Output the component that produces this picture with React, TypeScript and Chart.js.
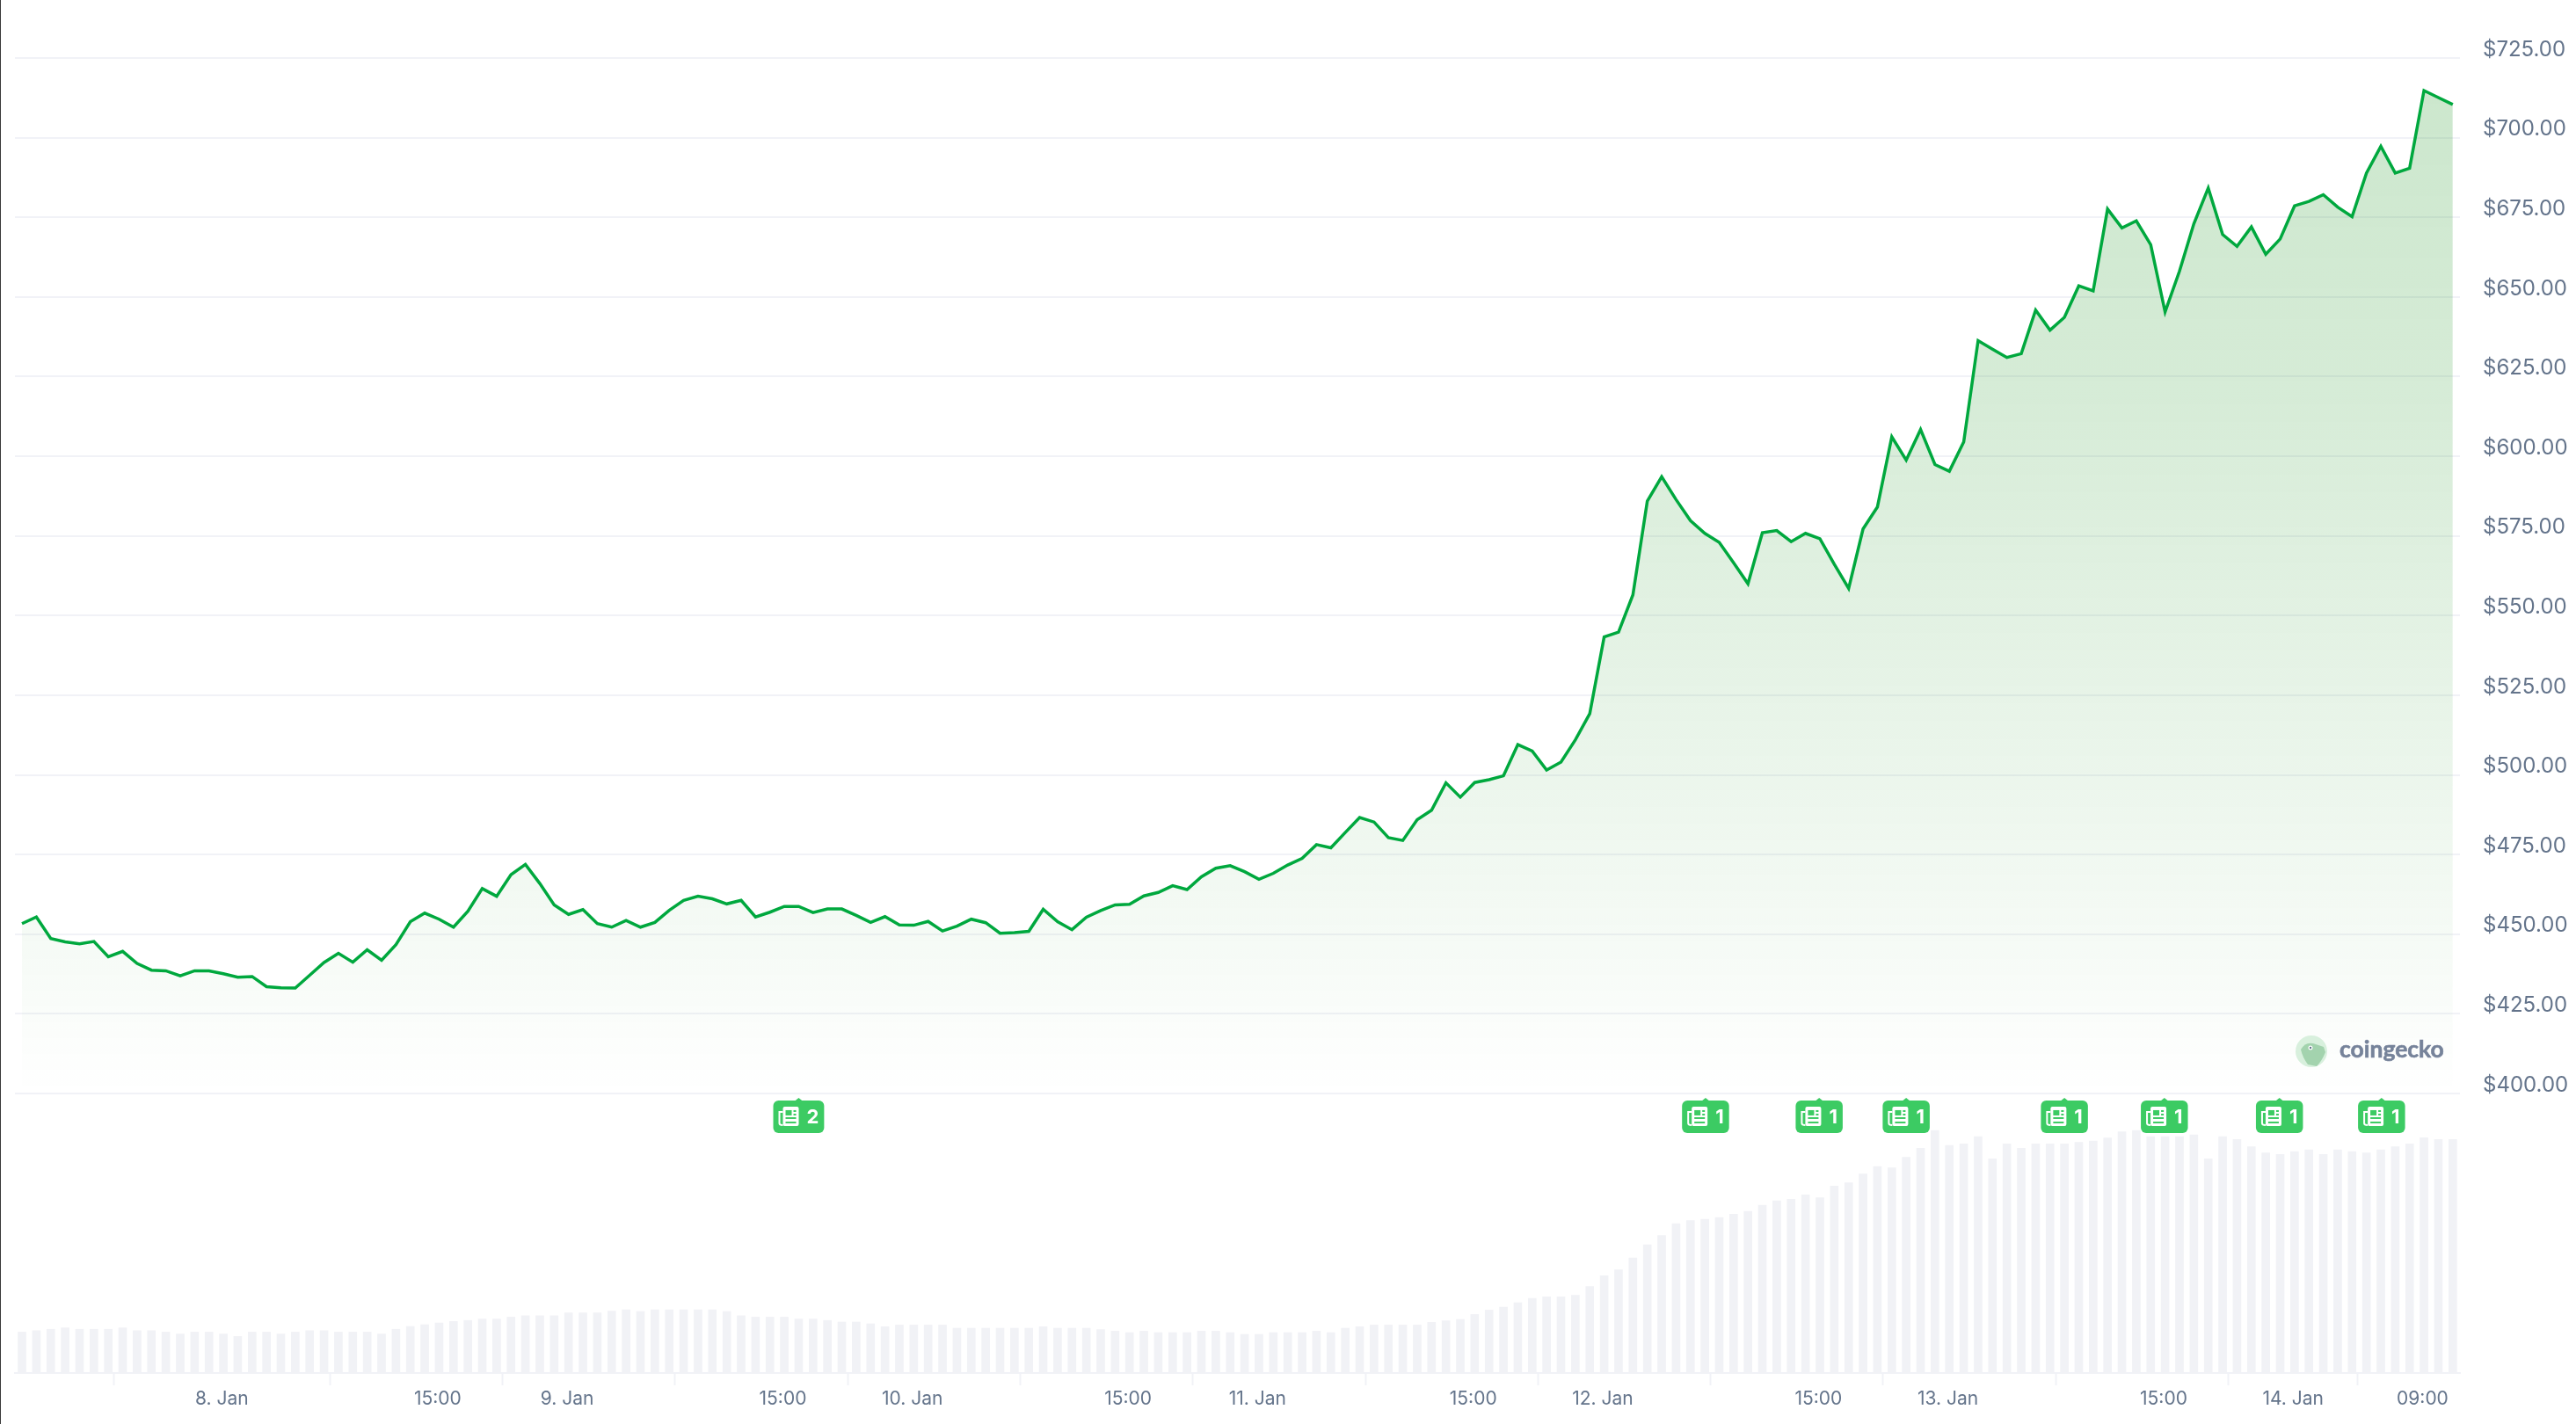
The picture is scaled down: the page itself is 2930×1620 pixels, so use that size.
import { useEffect, useRef } from "react";
import { Chart, registerables } from "chart.js";

Chart.register(...registerables);

// hourly close price, USD
const prices = [
  453.3, 455.4, 448.6, 447.6, 447.0, 447.7, 442.9, 444.6, 440.8, 438.7,
  438.5, 436.9, 438.5, 438.5, 437.6, 436.5, 436.7, 433.5, 433.2, 433.1,
  437.1, 441.1, 444.0, 441.2, 445.1, 441.8, 446.7, 453.9, 456.6, 454.7,
  452.2, 457.2, 464.3, 461.9, 468.7, 471.9, 465.9, 459.2, 456.2, 457.7,
  453.3, 452.2, 454.3, 452.2, 453.7, 457.5, 460.6, 461.9, 461.1, 459.5,
  460.6, 455.4, 456.9, 458.7, 458.7, 456.8, 457.9, 457.9, 455.9, 453.7,
  455.5, 452.9, 452.8, 454.0, 451.0, 452.5, 454.7, 453.6, 450.3, 450.5,
  450.9, 457.8, 453.9, 451.4, 455.3, 457.4, 459.2, 459.4, 462.0, 463.1,
  465.2, 464.0, 468.0, 470.7, 471.5, 469.6, 467.2, 469.1, 471.7, 473.8,
  478.1, 477.1, 481.9, 486.6, 485.2, 480.3, 479.4, 485.9, 488.9, 497.5,
  493.0, 497.6, 498.5, 499.7, 509.5, 507.5, 501.5, 504.0, 511.0, 519.2,
  543.3, 544.8, 556.5, 585.9, 593.6, 586.4, 579.8, 575.8, 573.0, 566.6,
  560.0, 576.0, 576.7, 573.2, 575.8, 574.1, 566.1, 558.5, 577.2, 584.1,
  606.1, 598.8, 608.4, 597.4, 595.3, 604.5, 636.3, 633.6, 631.0, 632.2,
  645.9, 639.6, 643.6, 653.5, 651.9, 677.6, 671.7, 673.9, 666.4, 645.3,
  658.1, 673.0, 684.2, 669.6, 665.9, 672.0, 663.4, 668.2, 678.6, 680.0,
  682.1, 678.2, 675.2, 688.9, 697.3, 688.9, 690.4, 714.8, 712.6, 710.4,
];

// hourly traded volume, $B
const volumes = [
  2.33, 2.41, 2.49, 2.57, 2.49, 2.49, 2.49, 2.57, 2.41, 2.41,
  2.33, 2.22, 2.33, 2.33, 2.22, 2.08, 2.33, 2.33, 2.22, 2.33,
  2.41, 2.41, 2.33, 2.33, 2.33, 2.22, 2.49, 2.65, 2.75, 2.85,
  2.93, 2.99, 3.07, 3.07, 3.18, 3.26, 3.26, 3.26, 3.42, 3.42,
  3.42, 3.52, 3.6, 3.5, 3.6, 3.6, 3.6, 3.6, 3.6, 3.5,
  3.26, 3.18, 3.18, 3.18, 3.07, 3.07, 2.99, 2.9, 2.9, 2.8,
  2.63, 2.73, 2.73, 2.73, 2.73, 2.55, 2.55, 2.55, 2.55, 2.55,
  2.55, 2.63, 2.55, 2.55, 2.55, 2.47, 2.38, 2.3, 2.38, 2.3,
  2.3, 2.3, 2.38, 2.38, 2.3, 2.2, 2.2, 2.3, 2.3, 2.3,
  2.38, 2.3, 2.55, 2.63, 2.73, 2.73, 2.73, 2.73, 2.88, 2.97,
  3.05, 3.33, 3.58, 3.75, 4.0, 4.25, 4.33, 4.33, 4.42, 4.92,
  5.53, 5.87, 6.55, 7.3, 7.82, 8.5, 8.67, 8.75, 8.85, 9.03,
  9.2, 9.55, 9.8, 9.88, 10.13, 9.97, 10.63, 10.82, 11.32, 11.75,
  11.67, 12.27, 12.78, 13.8, 12.95, 13.03, 13.45, 12.18, 13.03, 12.78,
  13.03, 13.03, 13.03, 13.12, 13.2, 13.37, 13.72, 13.8, 13.45, 13.45,
  13.45, 13.55, 12.18, 13.45, 13.28, 12.87, 12.52, 12.43, 12.6, 12.7,
  12.43, 12.7, 12.6, 12.52, 12.7, 12.87, 13.03, 13.38, 13.28, 13.28,
];

// x axis is hours since 8. Jan 00:00
const firstHour = -13.9;
const tickHours = [0, 15, 24, 39, 48, 63, 72, 87, 96, 111, 120, 135, 144, 153];
const tickLabels = [
  "8. Jan", "15:00", "9. Jan", "15:00", "10. Jan", "15:00", "11. Jan",
  "15:00", "12. Jan", "15:00", "13. Jan", "15:00", "14. Jan", "09:00",
];
const priceTicks = [400, 425, 450, 475, 500, 525, 550, 575, 600, 625, 650, 675, 700, 725];

// news markers
const newsHours = [40.1, 103.15, 111.05, 117.1, 128.1, 135.05, 143.05, 150.15];
const newsCounts = ["2", "1", "1", "1", "1", "1", "1", "1"];

const LINE = "#00a83e";
const GRID = "#f1f2f7";
const TEXT = "#64748b";

const drawNewsIcon = (ctx: CanvasRenderingContext2D, x: number, y: number, bg: string) => {
  ctx.fillStyle = "#fff";
  ctx.beginPath();
  ctx.roundRect(x + 5, y, 18, 22, 2);
  ctx.fill();
  ctx.strokeStyle = "#fff";
  ctx.lineWidth = 2;
  ctx.beginPath();
  ctx.moveTo(x + 5, y + 6);
  ctx.lineTo(x + 1, y + 6);
  ctx.lineTo(x + 1, y + 19);
  ctx.quadraticCurveTo(x + 1, y + 21, x + 5, y + 21);
  ctx.stroke();
  ctx.fillStyle = bg;
  ctx.fillRect(x + 8, y + 4, 7, 6);
  ctx.fillRect(x + 17, y + 4, 3, 2);
  ctx.fillRect(x + 17, y + 8, 3, 2);
  ctx.fillRect(x + 8, y + 12, 12, 2);
  ctx.fillRect(x + 8, y + 17, 12, 2);
};

const newsPlugin = {
  id: "newsMarkers",
  afterDatasetsDraw: (chart: Chart) => {
    const { ctx, scales } = chart;
    const bg = "#3ccb63";
    const top = scales.y.getPixelForValue(400) + 8;
    ctx.save();
    ctx.font = "bold 22px Inter";
    ctx.textBaseline = "middle";
    ctx.textAlign = "left";
    newsHours.forEach((h, i) => {
      const cx = scales.x.getPixelForValue(h);
      const w = 6 + 24 + 8 + ctx.measureText(newsCounts[i]).width + 6;
      const left = cx - w / 2;
      ctx.fillStyle = bg;
      ctx.beginPath();
      ctx.roundRect(left, top, w, 37, 6);
      ctx.fill();
      ctx.beginPath();
      ctx.moveTo(cx - 5, top + 1);
      ctx.lineTo(cx, top - 3);
      ctx.lineTo(cx + 5, top + 1);
      ctx.fill();
      drawNewsIcon(ctx, left + 6, top + 7, bg);
      ctx.fillStyle = "#fff";
      ctx.fillText(newsCounts[i], left + 38, top + 19);
    });
    ctx.restore();
  },
};

const logoPlugin = {
  id: "logo",
  afterDraw: (chart: Chart) => {
    const { ctx } = chart;
    ctx.save();
    ctx.fillStyle = "#d8f0dd";
    ctx.beginPath();
    ctx.arc(2629, 1196, 18, 0, Math.PI * 2);
    ctx.fill();
    ctx.fillStyle = "#a3d3ae";
    ctx.beginPath();
    ctx.moveTo(2617, 1194);
    ctx.quadraticCurveTo(2622, 1185, 2631, 1187);
    ctx.lineTo(2643, 1191);
    ctx.lineTo(2645, 1197);
    ctx.quadraticCurveTo(2641, 1207, 2635, 1213);
    ctx.lineTo(2625, 1211);
    ctx.quadraticCurveTo(2619, 1203, 2617, 1194);
    ctx.fill();
    ctx.fillStyle = "#fff";
    ctx.beginPath();
    ctx.arc(2628, 1192, 2.5, 0, Math.PI * 2);
    ctx.fill();
    ctx.fillStyle = "#64748b";
    ctx.beginPath();
    ctx.arc(2628, 1192, 1.2, 0, Math.PI * 2);
    ctx.fill();
    ctx.fillStyle = "#76839a";
    ctx.strokeStyle = "#76839a";
    ctx.lineWidth = 0.6;
    ctx.font = "bold 26.5px Lato";
    ctx.textBaseline = "alphabetic";
    ctx.textAlign = "left";
    ctx.fillText("coingecko", 2661, 1203);
    ctx.strokeText("coingecko", 2661, 1203);
    ctx.restore();
  },
};

const App = () => {
  const canvasRef = useRef<HTMLCanvasElement>(null);

  useEffect(() => {
    if (!canvasRef.current) return;
    const hours = prices.map((_, i) => firstHour + i);
    const chart = new Chart(canvasRef.current, {
      data: {
        datasets: [
          {
            type: "line",
            order: 0,
            data: prices.map((p, i) => ({ x: hours[i], y: p })),
            yAxisID: "y",
            borderColor: LINE,
            borderWidth: 3.5,
            borderJoinStyle: "miter",
            pointRadius: 0,
            tension: 0,
            fill: { value: 400 },
            backgroundColor: (c: any) => {
              const { ctx, scales, chartArea } = c.chart;
              // scales have no pixels until the first layout is done
              if (!chartArea) return "transparent";
              const top = scales.y.getPixelForValue(725);
              const bottom = scales.y.getPixelForValue(400);
              if (!Number.isFinite(top) || !Number.isFinite(bottom)) return "transparent";
              const g = ctx.createLinearGradient(0, top, 0, bottom);
              g.addColorStop(0, "rgba(0,135,5,0.205)");
              g.addColorStop(0.326, "rgba(0,135,5,0.16)");
              g.addColorStop(0.666, "rgba(0,135,5,0.082)");
              g.addColorStop(0.878, "rgba(0,135,5,0.03)");
              g.addColorStop(1, "rgba(0,135,5,0)");
              return g;
            },
          },
          {
            type: "bar",
            order: 1,
            data: volumes.map((v, i) => ({ x: hours[i], y: v })),
            yAxisID: "y1",
            backgroundColor: "#f1f2f6",
            barThickness: 9,
          },
        ],
      },
      options: {
        responsive: false,
        animation: false,
        devicePixelRatio: 1,
        layout: { padding: { left: 17, top: 20, right: 0, bottom: 0 } },
        plugins: { legend: { display: false }, tooltip: { enabled: false } },
        scales: {
          x: {
            type: "linear",
            offset: false,
            min: -14.39,
            max: 155.6,
            afterBuildTicks: (s: any) => {
              s.ticks = tickHours.map((value) => ({ value }));
            },
            afterFit: (s: any) => {
              s.height = 58;
              s.paddingLeft = 0;
              s.paddingRight = 0;
            },
            grid: {
              drawOnChartArea: false,
              tickLength: 14,
              tickWidth: 2,
              tickColor: GRID,
            },
            border: { display: true, color: GRID, width: 2 },
            ticks: {
              autoSkip: false,
              maxRotation: 0,
              padding: 3,
              color: TEXT,
              font: { family: "Inter", size: 21 },
              callback: (_v: any, i: number) => tickLabels[i],
            },
          },
          y: {
            position: "right",
            min: 312.25,
            max: 737.7,
            afterBuildTicks: (s: any) => {
              s.ticks = priceTicks.map((value) => ({ value }));
            },
            afterFit: (s: any) => {
              s.width = 132;
              s.paddingTop = 0;
              s.paddingBottom = 0;
            },
            grid: { color: GRID, lineWidth: 2, drawTicks: false },
            border: { display: false },
            ticks: {
              padding: 26,
              labelOffset: -9.5,
              color: TEXT,
              font: { family: "Inter", size: 24 },
              callback: (v: any) => `$${Number(v).toFixed(2)}`,
            },
          },
          y1: {
            display: false,
            position: "left",
            min: 0,
            max: 77.1,
          },
        },
      },
      plugins: [newsPlugin, logoPlugin],
    } as any);

    return () => {
      chart.destroy();
    };
  }, []);

  return (
    <div style={{ position: "fixed", inset: 0, background: "#fff" }}>
      <canvas ref={canvasRef} width={2930} height={1620} style={{ display: "block" }} />
      <div
        style={{
          position: "absolute",
          left: 0,
          top: 0,
          bottom: 0,
          width: 1,
          background: "#3a3a3a",
        }}
      />
    </div>
  );
};

export default App;
